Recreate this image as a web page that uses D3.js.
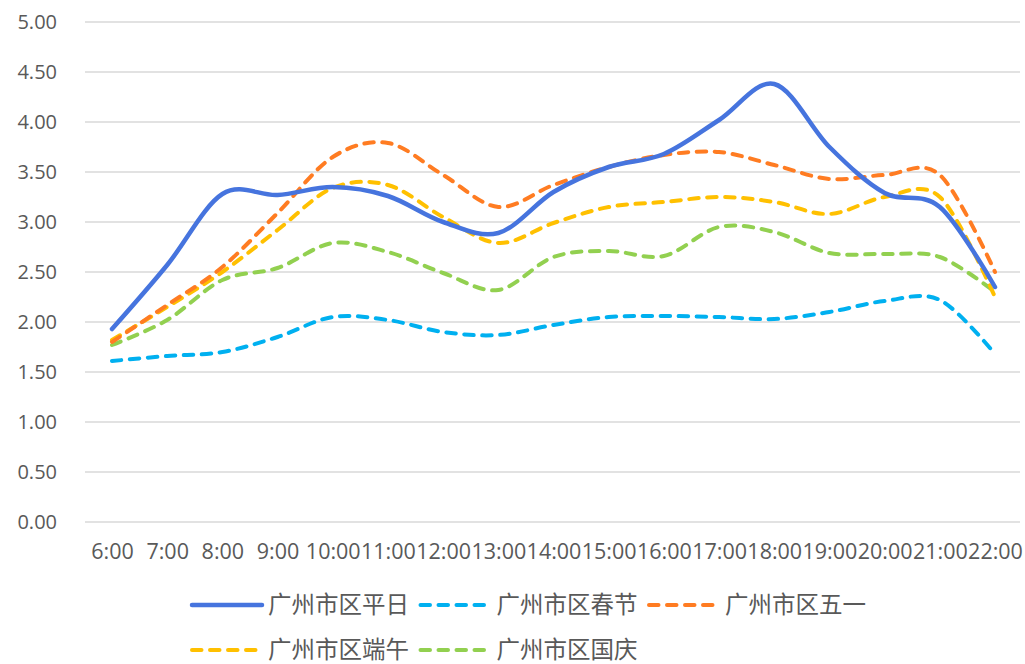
<!DOCTYPE html>
<html>
<head>
<meta charset="utf-8">
<script src="https://cdn.jsdelivr.net/npm/d3@7"></script>
<style>
  body { margin: 0; background: #fff; }
  text { font-family: "Open Sans", "Noto Sans", sans-serif; fill: #595959; }
  .cjk { font-family: "Noto Sans CJK SC", sans-serif; }
</style>
</head>
<body>
<svg width="1025" height="664"></svg>
<script>
const hours = ['6:00','7:00','8:00','9:00','10:00','11:00','12:00','13:00','14:00','15:00','16:00','17:00','18:00','19:00','20:00','21:00','22:00'];
const yTicks = [0, 0.5, 1, 1.5, 2, 2.5, 3, 3.5, 4, 4.5, 5];

// 各时段数值
const pingri  = [1.93, 2.57, 3.28, 3.27, 3.35, 3.26, 3.00, 2.89, 3.30, 3.55, 3.68, 4.02, 4.38, 3.75, 3.29, 3.15, 2.35];
const chunjie = [1.61, 1.66, 1.70, 1.85, 2.05, 2.02, 1.90, 1.87, 1.97, 2.05, 2.06, 2.05, 2.03, 2.10, 2.21, 2.22, 1.68];
const wuyi    = [1.80, 2.17, 2.55, 3.09, 3.65, 3.79, 3.47, 3.15, 3.37, 3.55, 3.67, 3.70, 3.57, 3.43, 3.47, 3.47, 2.50];
const duanwu  = [1.82, 2.15, 2.50, 2.92, 3.34, 3.37, 3.05, 2.79, 2.99, 3.15, 3.20, 3.25, 3.20, 3.08, 3.25, 3.25, 2.25];
const guoqing = [1.77, 2.02, 2.42, 2.54, 2.79, 2.70, 2.49, 2.32, 2.65, 2.71, 2.66, 2.95, 2.90, 2.69, 2.68, 2.65, 2.30];

const series = [
  { name: '广州市区平日', values: pingri,  color: '#4674DE', dash: null },
  { name: '广州市区春节', values: chunjie, color: '#00B0F0', dash: '9.5,8.5' },
  { name: '广州市区五一', values: wuyi,    color: '#FF7C22', dash: '9.5,8.5' },
  { name: '广州市区端午', values: duanwu,  color: '#FFC000', dash: '9.5,8.5' },
  { name: '广州市区国庆', values: guoqing, color: '#92D050', dash: '9.5,8.5' }
];

const svg = d3.select('svg');

const x = d3.scalePoint()
  .domain(hours)
  .range([112, 995]);

const y = d3.scaleLinear()
  .domain([0, 5])
  .range([522, 22]);

// 网格线
svg.append('g')
  .selectAll('line')
  .data(yTicks)
  .join('line')
    .attr('x1', 85)
    .attr('x2', 1020)
    .attr('y1', d => y(d))
    .attr('y2', d => y(d))
    .attr('stroke', '#d9d9d9')
    .attr('stroke-width', 1.5);

// y 轴
const yAxis = svg.append('g')
  .attr('transform', 'translate(57,0)')
  .call(d3.axisLeft(y).tickValues(yTicks).tickFormat(d3.format('.2f')).tickSize(0).tickPadding(0));
yAxis.select('.domain').remove();
yAxis.selectAll('text')
  .attr('font-size', 20)
  .attr('font-family', '"Open Sans", sans-serif')
  .attr('fill', '#595959');

// x 轴
const xAxis = svg.append('g')
  .attr('transform', 'translate(0,522)')
  .call(d3.axisBottom(x).tickSize(0).tickPadding(22));
xAxis.select('.domain').remove();
xAxis.selectAll('text')
  .attr('font-size', 21.5)
  .attr('font-family', '"Open Sans", sans-serif')
  .attr('fill', '#595959');

const line = d3.line()
  .x((d, i) => x(hours[i]))
  .y(d => y(d))
  .curve(d3.curveCardinal.tension(0));

svg.append('g')
  .selectAll('path')
  .data(series.slice().reverse())
  .join('path')
    .attr('d', d => line(d.values))
    .attr('fill', 'none')
    .attr('stroke', d => d.color)
    .attr('stroke-width', d => d.dash ? 4 : 4.5)
    .attr('stroke-linecap', 'round')
    .attr('stroke-linejoin', 'round')
    .attr('stroke-dasharray', d => d.dash);

// 图例
const legend = svg.append('g');
const item = legend.selectAll('g')
  .data(series)
  .join('g')
    .attr('transform', (d, i) => `translate(${192 + (i % 3) * 228.5},${i < 3 ? 605 : 650})`);

item.append('line')
  .attr('x1', 0)
  .attr('x2', 70)
  .attr('stroke', d => d.color)
  .attr('stroke-width', d => d.dash ? 4 : 4.5)
  .attr('stroke-linecap', 'round')
  .attr('stroke-dasharray', d => d.dash);

item.append('text')
  .attr('class', 'cjk')
  .attr('x', 76)
  .attr('dy', '0.34em')
  .attr('font-size', 23.5)
  .text(d => d.name);
</script>
</body>
</html>
